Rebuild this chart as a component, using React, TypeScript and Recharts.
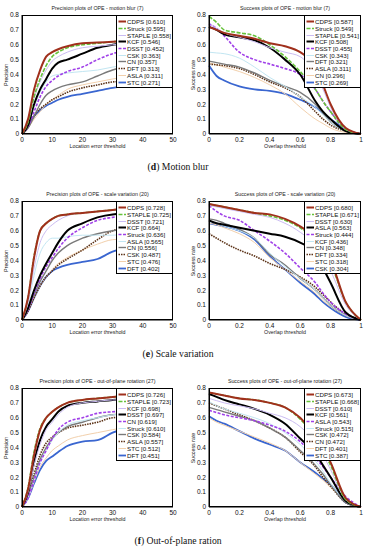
import { Line, LineChart, XAxis, YAxis } from 'recharts';

// x grids the curves were read at
const precX = [0, 2, 4, 6, 8, 10, 12, 15, 20, 25, 30, 40, 50];
const succX = [0, 0.05, 0.1, 0.2, 0.3, 0.4, 0.5, 0.6, 0.7, 0.75, 0.8, 0.9, 1];

const precTicks = [0, 10, 20, 30, 40, 50];
const succTicks = [0, 0.2, 0.4, 0.6, 0.8, 1];
const yTicks = [0, 0.1, 0.2, 0.3, 0.4, 0.5, 0.6, 0.7, 0.8];

// (d) motion blur
const mbPrecNames = ['CDPS', 'Struck', 'STAPLE', 'KCF', 'DSST', 'CSK', 'CN', 'DFT', 'ASLA', 'STC'];
const mbPrecScores = [0.61, 0.595, 0.558, 0.546, 0.452, 0.363, 0.357, 0.313, 0.311, 0.271];
const mbPrecValues = [
  [0, 0.1, 0.3, 0.43, 0.52, 0.55, 0.57, 0.59, 0.61, 0.615, 0.62, 0.63, 0.63],
  [0, 0.08, 0.25, 0.37, 0.46, 0.52, 0.55, 0.58, 0.6, 0.61, 0.62, 0.63, 0.63],
  [0, 0.08, 0.24, 0.35, 0.43, 0.49, 0.52, 0.55, 0.58, 0.59, 0.6, 0.61, 0.61],
  [0, 0.06, 0.2, 0.3, 0.37, 0.44, 0.48, 0.5, 0.54, 0.58, 0.6, 0.62, 0.62],
  [0, 0.05, 0.15, 0.25, 0.32, 0.36, 0.39, 0.42, 0.45, 0.5, 0.54, 0.58, 0.6],
  [0, 0.06, 0.18, 0.28, 0.35, 0.39, 0.4, 0.41, 0.42, 0.43, 0.45, 0.47, 0.48],
  [0, 0.04, 0.12, 0.2, 0.26, 0.29, 0.31, 0.33, 0.35, 0.39, 0.43, 0.47, 0.5],
  [0, 0.05, 0.12, 0.17, 0.2, 0.23, 0.25, 0.28, 0.31, 0.33, 0.35, 0.36, 0.37],
  [0, 0.04, 0.1, 0.15, 0.2, 0.23, 0.26, 0.3, 0.33, 0.35, 0.37, 0.4, 0.42],
  [0, 0.05, 0.12, 0.16, 0.19, 0.21, 0.23, 0.25, 0.27, 0.29, 0.31, 0.33, 0.34],
];
const mbSuccNames = ['CDPS', 'Struck', 'STAPLE', 'KCF', 'DSST', 'CSK', 'DFT', 'ASLA', 'CN', 'STC'];
const mbSuccScores = [0.587, 0.549, 0.541, 0.508, 0.455, 0.343, 0.321, 0.311, 0.296, 0.269];
const mbSuccValues = [
  [0.72, 0.7, 0.68, 0.66, 0.64, 0.61, 0.59, 0.55, 0.45, 0.33, 0.2, 0.04, 0],
  [0.79, 0.75, 0.7, 0.68, 0.66, 0.6, 0.52, 0.42, 0.3, 0.22, 0.15, 0.03, 0],
  [0.75, 0.71, 0.68, 0.65, 0.62, 0.58, 0.55, 0.52, 0.4, 0.3, 0.18, 0.03, 0],
  [0.72, 0.7, 0.67, 0.65, 0.63, 0.58, 0.5, 0.4, 0.22, 0.15, 0.1, 0.02, 0],
  [0.74, 0.71, 0.66, 0.55, 0.5, 0.47, 0.44, 0.4, 0.3, 0.22, 0.15, 0.03, 0],
  [0.55, 0.545, 0.54, 0.51, 0.45, 0.38, 0.32, 0.25, 0.18, 0.13, 0.08, 0.02, 0],
  [0.49, 0.48, 0.47, 0.45, 0.41, 0.36, 0.32, 0.28, 0.2, 0.14, 0.08, 0.02, 0],
  [0.47, 0.465, 0.46, 0.44, 0.4, 0.35, 0.31, 0.25, 0.15, 0.1, 0.06, 0.02, 0],
  [0.48, 0.465, 0.45, 0.42, 0.38, 0.33, 0.27, 0.18, 0.1, 0.07, 0.04, 0.01, 0],
  [0.46, 0.39, 0.36, 0.32, 0.3, 0.29, 0.27, 0.23, 0.18, 0.14, 0.1, 0.03, 0],
];

// (e) scale variation
const svPrecNames = ['CDPS', 'STAPLE', 'DSST', 'KCF', 'Struck', 'ASLA', 'CN', 'CSK', 'STC', 'DFT'];
const svPrecScores = [0.728, 0.725, 0.721, 0.664, 0.636, 0.565, 0.556, 0.487, 0.476, 0.402];
const svPrecValues = [
  [0, 0.15, 0.42, 0.6, 0.65, 0.68, 0.7, 0.71, 0.72, 0.73, 0.74, 0.75, 0.76],
  [0, 0.15, 0.43, 0.6, 0.65, 0.68, 0.7, 0.71, 0.72, 0.73, 0.74, 0.75, 0.75],
  [0, 0.12, 0.35, 0.52, 0.6, 0.64, 0.67, 0.7, 0.72, 0.73, 0.74, 0.74, 0.75],
  [0, 0.08, 0.2, 0.3, 0.38, 0.45, 0.52, 0.6, 0.65, 0.69, 0.71, 0.72, 0.73],
  [0, 0.07, 0.18, 0.28, 0.36, 0.42, 0.48, 0.55, 0.62, 0.67, 0.69, 0.71, 0.72],
  [0, 0.1, 0.3, 0.45, 0.52, 0.55, 0.55, 0.56, 0.57, 0.57, 0.57, 0.58, 0.58],
  [0, 0.07, 0.17, 0.26, 0.33, 0.4, 0.45, 0.5, 0.55, 0.58, 0.6, 0.62, 0.63],
  [0, 0.06, 0.15, 0.23, 0.29, 0.33, 0.37, 0.41, 0.47, 0.54, 0.6, 0.64, 0.66],
  [0, 0.06, 0.15, 0.23, 0.29, 0.34, 0.38, 0.42, 0.47, 0.51, 0.54, 0.55, 0.55],
  [0, 0.06, 0.15, 0.23, 0.29, 0.33, 0.35, 0.37, 0.39, 0.41, 0.46, 0.5, 0.52],
];
const svSuccNames = ['CDPS', 'STAPLE', 'DSST', 'ASLA', 'Struck', 'KCF', 'CN', 'DFT', 'STC', 'CSK'];
const svSuccScores = [0.68, 0.671, 0.63, 0.563, 0.444, 0.436, 0.348, 0.334, 0.318, 0.304];
const svSuccValues = [
  [0.78, 0.77, 0.76, 0.74, 0.72, 0.71, 0.68, 0.63, 0.55, 0.48, 0.4, 0.12, 0],
  [0.78, 0.77, 0.76, 0.74, 0.72, 0.7, 0.67, 0.62, 0.53, 0.46, 0.38, 0.12, 0],
  [0.77, 0.76, 0.75, 0.73, 0.71, 0.69, 0.65, 0.59, 0.5, 0.42, 0.33, 0.1, 0],
  [0.67, 0.65, 0.64, 0.62, 0.6, 0.58, 0.56, 0.52, 0.45, 0.35, 0.25, 0.05, 0],
  [0.77, 0.73, 0.7, 0.67, 0.6, 0.53, 0.45, 0.35, 0.25, 0.18, 0.12, 0.04, 0],
  [0.66, 0.65, 0.63, 0.6, 0.55, 0.45, 0.36, 0.28, 0.2, 0.15, 0.1, 0.03, 0],
  [0.68, 0.67, 0.65, 0.61, 0.55, 0.44, 0.37, 0.28, 0.2, 0.15, 0.1, 0.03, 0],
  [0.58, 0.55, 0.52, 0.47, 0.43, 0.38, 0.34, 0.29, 0.22, 0.17, 0.12, 0.04, 0],
  [0.65, 0.64, 0.62, 0.58, 0.52, 0.42, 0.34, 0.26, 0.18, 0.13, 0.09, 0.03, 0],
  [0.65, 0.64, 0.63, 0.6, 0.54, 0.43, 0.34, 0.25, 0.17, 0.12, 0.08, 0.02, 0],
];

// (f) out-of-plane rotation
const opPrecNames = ['CDPS', 'STAPLE', 'KCF', 'DSST', 'CN', 'Struck', 'CSK', 'ASLA', 'STC', 'DFT'];
const opPrecScores = [0.726, 0.723, 0.698, 0.697, 0.619, 0.61, 0.584, 0.557, 0.512, 0.451];
const opPrecValues = [
  [0, 0.12, 0.35, 0.52, 0.6, 0.64, 0.67, 0.7, 0.72, 0.73, 0.74, 0.75, 0.75],
  [0, 0.13, 0.37, 0.53, 0.6, 0.64, 0.67, 0.7, 0.72, 0.73, 0.74, 0.75, 0.75],
  [0, 0.1, 0.28, 0.42, 0.52, 0.57, 0.62, 0.67, 0.7, 0.71, 0.72, 0.72, 0.72],
  [0, 0.1, 0.3, 0.45, 0.54, 0.59, 0.64, 0.68, 0.7, 0.71, 0.72, 0.73, 0.73],
  [0, 0.06, 0.18, 0.3, 0.38, 0.46, 0.52, 0.57, 0.6, 0.63, 0.64, 0.65, 0.65],
  [0, 0.06, 0.18, 0.3, 0.38, 0.45, 0.5, 0.55, 0.58, 0.6, 0.62, 0.63, 0.64],
  [0, 0.07, 0.2, 0.32, 0.4, 0.46, 0.5, 0.54, 0.57, 0.6, 0.62, 0.63, 0.64],
  [0, 0.08, 0.22, 0.35, 0.43, 0.47, 0.5, 0.53, 0.55, 0.57, 0.6, 0.61, 0.62],
  [0, 0.06, 0.17, 0.27, 0.33, 0.38, 0.41, 0.45, 0.48, 0.5, 0.52, 0.55, 0.56],
  [0, 0.06, 0.16, 0.25, 0.31, 0.34, 0.37, 0.41, 0.44, 0.45, 0.5, 0.55, 0.57],
];
const opSuccNames = ['CDPS', 'STAPLE', 'DSST', 'KCF', 'ASLA', 'Struck', 'CSK', 'CN', 'DFT', 'STC'];
const opSuccScores = [0.673, 0.668, 0.61, 0.561, 0.543, 0.515, 0.472, 0.472, 0.401, 0.387];
const opSuccValues = [
  [0.77, 0.76, 0.75, 0.73, 0.72, 0.7, 0.67, 0.6, 0.48, 0.4, 0.3, 0.06, 0],
  [0.77, 0.76, 0.75, 0.73, 0.72, 0.7, 0.67, 0.59, 0.47, 0.38, 0.28, 0.05, 0],
  [0.73, 0.715, 0.7, 0.68, 0.66, 0.63, 0.6, 0.54, 0.43, 0.35, 0.25, 0.05, 0],
  [0.76, 0.74, 0.72, 0.69, 0.66, 0.62, 0.56, 0.46, 0.36, 0.28, 0.2, 0.04, 0],
  [0.65, 0.635, 0.62, 0.6, 0.58, 0.55, 0.51, 0.44, 0.33, 0.27, 0.2, 0.07, 0],
  [0.71, 0.68, 0.66, 0.63, 0.6, 0.56, 0.5, 0.42, 0.31, 0.24, 0.16, 0.04, 0],
  [0.67, 0.655, 0.64, 0.61, 0.58, 0.53, 0.47, 0.38, 0.28, 0.22, 0.15, 0.03, 0],
  [0.7, 0.68, 0.66, 0.62, 0.58, 0.53, 0.47, 0.37, 0.27, 0.2, 0.14, 0.03, 0],
  [0.6, 0.57, 0.55, 0.51, 0.47, 0.43, 0.38, 0.3, 0.22, 0.18, 0.13, 0.04, 0],
  [0.61, 0.58, 0.56, 0.51, 0.46, 0.42, 0.38, 0.3, 0.23, 0.19, 0.15, 0.03, 0],
];

// line style follows the rank, like the OTB toolkit
const rankColors = ['#a0301c', '#66c23a', '#cbbcf2', '#000000', '#a040e8', '#c2e6f2', '#7a7a7a', '#5c3318', '#f2d0ac', '#3a66d0'];
const rankDash = ['', '4 1.5', '', '', '3 1.5', '', '', '1.5 1', '', ''];
const rankWidth = [2, 1.6, 1, 2, 1.6, 1, 1.4, 1.6, 1, 1.8];

type PanelProps = {
  left: number;
  top: number;
  w: number;
  h: number;
  title: string;
  xLabel: string;
  yLabel: string;
  xs: number[];
  values: number[][];
  names: string[];
  scores: number[];
  xMax: number;
  xTicks: number[];
};

const Panel = ({ left, top, w, h, title, xLabel, yLabel, xs, values, names, scores, xMax, xTicks }: PanelProps) => {
  const data = xs.map((x, j) => {
    const row: Record<string, number> = { x };
    values.forEach((v, i) => (row['s' + i] = v[j]));
    return row;
  });
  const order = values.map((_, i) => i).reverse();
  const tick = { fontSize: 6.5, fill: '#111' };

  return (
    <>
      <div style={{ position: 'absolute', left: left - 30, top: top - 15 }}>
        <LineChart width={w + 40} height={h + 30} data={data} margin={{ top: 15, right: 10, bottom: 0, left: 0 }}>
          <XAxis dataKey="x" type="number" domain={[0, xMax]} ticks={xTicks} interval={0} height={15}
            tickSize={0} tickMargin={3} tick={tick} stroke="#000" />
          <YAxis type="number" domain={[0, 0.8]} ticks={yTicks} interval={0} width={30}
            tickSize={0} tickMargin={3} tick={tick} stroke="#000" />
          {order.map((i) => (
            <Line key={i} dataKey={'s' + i} type="monotone" dot={false} isAnimationActive={false}
              stroke={rankColors[i]} strokeWidth={rankWidth[i]} strokeDasharray={rankDash[i]} />
          ))}
        </LineChart>
      </div>
      <div style={{ position: 'absolute', left, top, width: w, height: h, border: '1px solid #000', boxSizing: 'border-box', pointerEvents: 'none' }} />
      <div style={{ position: 'absolute', left: left + w / 2, top: top - 7, transform: 'translate(-50%,-50%)', fontSize: 5.3, whiteSpace: 'nowrap', color: '#222' }}>
        {title}
      </div>
      <div style={{ position: 'absolute', left: left + w / 2, top: top + h + 12, transform: 'translate(-50%,-50%)', fontSize: 5.3, whiteSpace: 'nowrap', color: '#222' }}>
        {xLabel}
      </div>
      <div style={{ position: 'absolute', left: left - 16, top: top + h / 2, transform: 'translate(-50%,-50%) rotate(-90deg)', fontSize: 5.3, whiteSpace: 'nowrap', color: '#222' }}>
        {yLabel}
      </div>
      <div style={{ position: 'absolute', left: left + w - 57, top, width: 57, height: 73, border: '0.8px solid #000', background: '#fff', boxSizing: 'border-box' }}>
        {names.map((n, i) => (
          <div key={n} style={{ position: 'absolute', left: 0, top: 2.2 + i * 6.7, height: 7, display: 'flex', alignItems: 'center' }}>
            <svg width={10} height={7}>
              <line x1={1.5} x2={9} y1={3.5} y2={3.5} stroke={rankColors[i]} strokeWidth={rankWidth[i]} strokeDasharray={rankDash[i]} />
            </svg>
            <span style={{ fontSize: 6.2, lineHeight: '7px', whiteSpace: 'nowrap', color: '#111' }}>
              {n} [{scores[i].toFixed(3)}]
            </span>
          </div>
        ))}
      </div>
    </>
  );
};

const Caption = ({ y, tag, text }: { y: number; tag: string; text: string }) => (
  <div style={{ position: 'absolute', left: 178, top: y, transform: 'translate(-50%,-50%)', fontFamily: '"Liberation Serif", serif', fontSize: 9.7, whiteSpace: 'nowrap', color: '#111' }}>
    (<b>{tag}</b>) {text}
  </div>
);

const rows = [
  { top: 15, key: 'motion blur (7)', prec: [mbPrecValues, mbPrecNames, mbPrecScores], succ: [mbSuccValues, mbSuccNames, mbSuccScores] },
  { top: 201, key: 'scale variation (20)', prec: [svPrecValues, svPrecNames, svPrecScores], succ: [svSuccValues, svSuccNames, svSuccScores] },
  { top: 388, key: 'out-of-plane rotation (27)', prec: [opPrecValues, opPrecNames, opPrecScores], succ: [opSuccValues, opSuccNames, opSuccScores] },
];

export default function App() {
  return (
    <div style={{ position: 'absolute', left: 0, top: 0, width: 368, height: 550, background: '#fff', overflow: 'hidden', fontFamily: '"Liberation Sans", Arial, sans-serif' }}>
      {rows.map((r) => (
        <div key={r.key}>
          <Panel left={22} top={r.top} w={151} h={119} title={'Precision plots of OPE - ' + r.key}
            xLabel="Location error threshold" yLabel="Precision" xs={precX}
            values={r.prec[0] as number[][]} names={r.prec[1] as string[]} scores={r.prec[2] as number[]}
            xMax={50} xTicks={precTicks} />
          <Panel left={209} top={r.top} w={152} h={119} title={'Success plots of OPE - ' + r.key}
            xLabel="Overlap threshold" yLabel="Success rate" xs={succX}
            values={r.succ[0] as number[][]} names={r.succ[1] as string[]} scores={r.succ[2] as number[]}
            xMax={1} xTicks={succTicks} />
        </div>
      ))}
      <Caption y={166} tag="d" text="Motion blur" />
      <Caption y={353} tag="e" text="Scale variation" />
      <Caption y={540} tag="f" text="Out-of-plane ration" />
    </div>
  );
}
